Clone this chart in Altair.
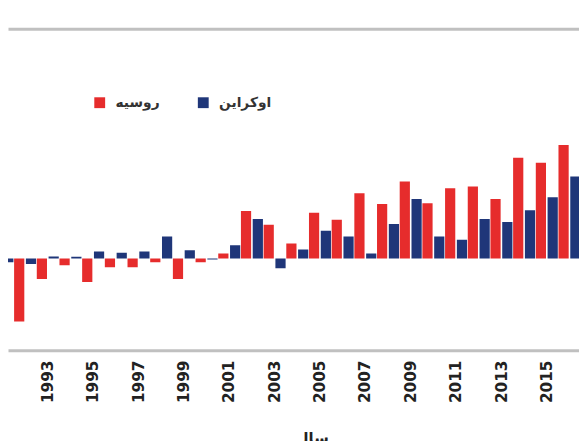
import altair as alt
import pandas as pd

years = list(range(1991, 2017))
russia = [-3.0, -16.5, -5.4, -1.8, -6.2, -2.3, -2.3, -1.0, -5.4, -1.0, 1.3, 12.4, 8.8,
          3.9, 11.9, 10.1, 17.0, 14.2, 20.1, 14.4, 18.3, 18.8, 15.5, 26.3, 25.0, 29.6]
ukraine = [-1.0, -1.5, 0.5, 0.4, 1.8, 1.5, 1.8, 5.7, 2.1, -0.3, 3.4, 10.3, -2.6,
           2.3, 7.2, 5.7, 1.3, 9.0, 15.5, 5.7, 4.9, 10.3, 9.5, 12.6, 16.0, 21.4]
series_names = ["روسیه", "اوکراین"]
tick_years = list(range(1991, 2017, 2))

rows = []
for y, r, u in zip(years, russia, ukraine):
    rows.append({"year": y, "series": series_names[0], "k": 0, "value": r})
    rows.append({"year": y, "series": series_names[1], "k": 1, "value": u})
df = pd.DataFrame(rows)

RED = "#e62c2c"
BLUE = "#1f3679"
FONT = "DejaVu Sans"

d0 = 1991 + 6 / 23
d1 = d0 + 579 / 23

chart = alt.Chart(df).transform_calculate(
    x0="datum.year + (datum.k == 0 ? -0.47 : 0.05)",
    x1="datum.year + (datum.k == 0 ? -0.02 : 0.50)",
    base="0",
).mark_bar(clip=True).encode(
    x=alt.X("x0:Q", scale=alt.Scale(domain=[d0, d1], nice=False, zero=False),
            axis=alt.Axis(
                values=tick_years, format="d", labelAngle=270, labelFont=FONT,
                labelFontWeight="bold", labelFontSize=15.5, labelColor="#222222",
                labelPadding=10, ticks=False, grid=False, domainColor="#c0c0c0",
                domainWidth=3, title="سال", titleFont=FONT, titleFontSize=15,
                titleFontWeight="bold", titleColor="#222222", titleX=308, titleY=82,
                titleBaseline="top", titleAlign="center")),
    x2="x1:Q",
    y=alt.Y("value:Q", scale=alt.Scale(domain=[-24, 60], nice=False, zero=False),
            axis=alt.Axis(values=[60], grid=True, gridColor="#c0c0c0", gridWidth=3,
                          labels=False, ticks=False, domain=False, title=None)),
    y2="base:Q",
    color=alt.Color("series:N", scale=alt.Scale(domain=series_names, range=[RED, BLUE]),
                    legend=alt.Legend(title=None, orient="none", direction="horizontal",
                                      legendX=86, legendY=68, symbolType="square",
                                      symbolSize=121, symbolStrokeWidth=0,
                                      labelFont=FONT, labelFontSize=14,
                                      labelFontWeight="bold", labelColor="#333333",
                                      labelOffset=9, columnPadding=37)),
).properties(
    width=579, height=326,
    autosize=alt.AutoSizeParams(type="none"),
    padding={"left": 0, "top": 18, "right": 0, "bottom": 89},
    background="white",
).configure_view(stroke=None)

chart.save("out.html", embed_options={"renderer": "svg", "actions": False})
